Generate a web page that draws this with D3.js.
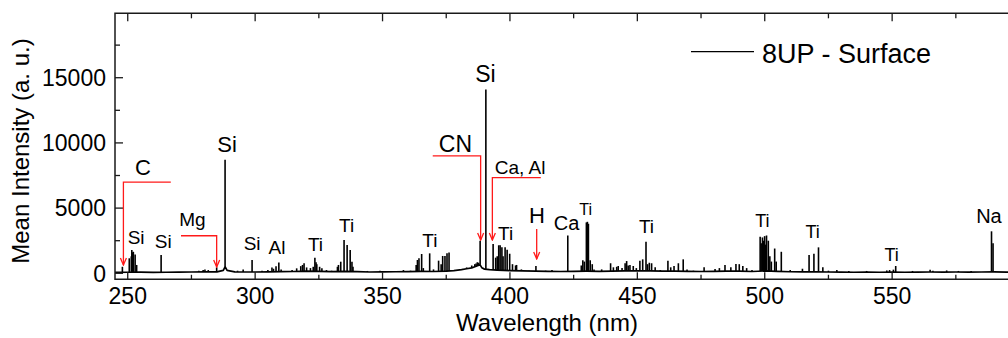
<!DOCTYPE html>
<html>
<head>
<meta charset="utf-8">
<script src="https://cdn.jsdelivr.net/npm/d3@7"></script>
<style>
  body { margin: 0; background: #fff; }
  svg { display: block; font-family: "Liberation Sans", Arial, sans-serif; }
</style>
</head>
<body>
<svg id="chart"></svg>
<script>
// baseline of the spectrum (wavelength nm, intensity)
const baseline = [
  [245, 70], [250, 80], [255, 90], [260, 70], [265, 80], [270, 90], [275, 100], [280, 120],
  [285, 110], [287.5, 220], [288.2, 500], [289, 220], [292, 110], [300, 100], [305, 110],
  [310, 130], [315, 140], [320, 170], [325, 150], [330, 130], [335, 150], [340, 130],
  [345, 100], [350, 110], [355, 120], [360, 130], [365, 150], [370, 140], [375, 160],
  [378, 200], [381, 280], [383, 350], [385, 420], [386.5, 520], [387.5, 600], [388.3, 650],
  [389, 420], [390, 320], [392, 280], [395, 240], [400, 210], [405, 180], [410, 160],
  [415, 150], [420, 140], [425, 150], [430, 160], [435, 150], [440, 170], [445, 180],
  [450, 190], [455, 180], [460, 160], [465, 170], [470, 150], [475, 140], [480, 150],
  [485, 160], [490, 170], [495, 140], [500, 180], [505, 150], [510, 120], [515, 110],
  [520, 120], [525, 100], [530, 90], [535, 80], [540, 90], [545, 80], [550, 100],
  [555, 80], [560, 90], [565, 100], [570, 90], [575, 100], [580, 90], [585, 100],
  [590, 110], [595, 90], [600, 80]
];

// emission lines: wavelength (nm) and peak intensity (a. u.)
const peakWavelengths = [
  247.9, 250.6, 251.4, 251.6, 251.9, 252.2, 252.9, 253.5, 263.1,
  277.9, 279.6, 280.3, 281.6, 284.9, 288.2,
  293.1, 295.3, 298.8, 302.7,
  305.0, 306.6, 307.2, 308.2, 309.3, 310.2,
  314.5, 316.3, 317.9, 318.6, 319.2, 320.2, 321.7, 322.8, 323.45, 323.9, 324.2, 325.3, 326.2, 328.0, 330.0,
  332.3, 332.7, 333.6, 334.9, 336.1, 337.3, 338.0, 338.4,
  344.0, 349.0, 350.5, 358.2, 361.0,
  363.2, 363.7, 364.3, 365.35, 366.0, 368.5, 370.0,
  372.0, 373.0, 373.6, 374.5, 375.3, 376.1,
  383.0, 385.0, 386.2, 386.7, 387.2, 387.7, 388.3,
  390.55,
  393.4, 394.4, 395.0, 395.6, 396.15, 396.85, 397.3, 398.1, 398.9, 399.9, 401.0, 402.2, 402.6, 404.5,
  407.5, 410.2, 414.0, 416.5,
  422.7,
  428.0, 428.6, 429.2, 430.0, 430.4, 430.8, 431.5, 432.3, 433.0,
  436.0, 439.5, 440.6, 441.9, 442.5, 444.0, 445.2, 445.8, 446.4, 447.1, 448.4, 449.6, 451.0, 452.1, 453.4, 454.0, 454.7, 455.6, 457.0,
  459.0, 462.0, 463.1, 464.4, 466.1, 468.0, 469.5,
  472.0, 476.2, 480.5, 482.2, 484.4, 486.7, 488.7, 490.0, 491.4, 492.9, 495.0,
  498.2, 498.6, 499.1, 499.5, 499.95, 500.3, 500.7, 501.4, 502.0, 502.6, 503.9, 504.5, 506.5,
  510.0, 514.8, 517.4, 519.3, 521.1, 522.8, 525.0, 528.3,
  533.0, 540.0, 547.9, 549.0, 550.5, 551.4,
  558.0, 564.9, 566.0, 571.4, 576.0, 581.0,
  589.0, 589.6
];
const peakIntensities = [
  500, 1150, 1300, 1790, 1600, 1650, 1450, 640, 1400,
  200, 250, 300, 250, 460, 8700,
  200, 300, 1020, 200,
  250, 450, 350, 550, 820, 300,
  250, 380, 550, 640, 770, 450, 400, 500, 1200, 850, 700, 500, 380, 250, 200,
  500, 640, 890, 2550, 2170, 1790, 890, 500,
  180, 200, 180, 250, 200,
  640, 1020, 1150, 1480, 400, 1530, 300,
  970, 700, 1330, 1330, 1530, 1600,
  450, 600, 700, 750, 850, 810, 2500,
  14100,
  2250, 1200, 1300, 2150, 2150, 2000, 1300, 2000, 1800, 1500, 700, 600, 640, 300,
  200, 560, 200, 250,
  2900,
  600, 1000, 900, 3900, 3950, 3800, 1000, 700, 300,
  300, 770, 460, 500, 560, 400, 770, 940, 600, 640, 560, 400, 970, 1070, 2420, 700, 810, 770, 460,
  250, 970, 460, 560, 770, 1070, 300,
  200, 460, 330, 400, 640, 460, 720, 700, 560, 400, 250,
  2800, 2300, 2750, 2500, 2850, 2200, 2900, 2500, 1300, 900, 1900, 900, 1650,
  250, 350, 1400, 1500, 1990, 460, 200, 250,
  180, 180, 220, 250, 280, 560,
  180, 280, 200, 220, 180, 180,
  3220, 2300
];

// element labels: text, wavelength, intensity, font size
const labelTexts = ['C', 'Si', 'Si', 'Mg', 'Si', 'Si', 'Al', 'Ti', 'Ti', 'Ti', 'Si', 'CN', 'Ca, Al', 'Ti', 'H', 'Ca', 'Ti', 'Ti', 'Ti', 'Ti', 'Ti', 'Na'];
const labelWl = [256.0, 253.3, 263.9, 275.4, 289.0, 298.8, 308.6, 323.7, 335.9, 368.6, 390.4, 378.6, 404.0, 398.3, 410.6, 422.2, 429.7, 453.6, 499.1, 518.8, 549.8, 588.0];
const labelInt = [8150, 2780, 2440, 4130, 9880, 2290, 1980, 2250, 3670, 2520, 15320, 9950, 8110, 3050, 4430, 3900, 4930, 3590, 4050, 3200, 1440, 4430];
const labelSize = [22, 19, 19, 19, 22, 19, 19, 19, 19, 19, 23, 23, 19, 19, 22, 20, 16, 19, 18, 18, 18, 20];

// red callout arrows: tip wavelength, tip intensity, elbow intensity, tail wavelength
const arrowTipWl = [248.3, 284.9, 388.5, 393.1, 410.5];
const arrowTipInt = [640, 480, 2550, 2550, 1100];
const arrowElbowInt = [7000, 2880, 9000, 7330, 3400];
const arrowTailWl = [266.9, 270.9, 369.7, 412.1, 410.5];

const xMajor = [250, 300, 350, 400, 450, 500, 550, 600];
const xMinor = [275, 325, 375, 425, 475, 525, 575];
const yMajor = [0, 5000, 10000, 15000];
const yMinor = [2500, 7500, 12500, 17500];

const seriesName = '8UP - Surface';

const width = 1008;
const height = 338;
const plotLeft = 115, plotTop = 13.3, plotBottom = 279.3;

const svg = d3.select('#chart').attr('width', width).attr('height', height);

const x = d3.scaleLinear().domain([245, 600]).range([plotLeft, plotLeft + 355 * 2.548]);
const y = d3.scaleLinear().domain([-460, 19940]).range([plotBottom, plotTop]);
const plotRight = x(600);

const axisColor = '#1a1a1a';

// spectrum baseline
const line = d3.line().x(d => x(d[0])).y(d => y(d[1]));
svg.append('path')
  .datum(baseline)
  .attr('fill', 'none')
  .attr('stroke', '#000')
  .attr('stroke-width', 1.7)
  .attr('stroke-linejoin', 'round')
  .attr('d', line);

const baseAt = w => {
  const i = d3.bisector(d => d[0]).left(baseline, w);
  if (i <= 0) return baseline[0][1];
  if (i >= baseline.length) return baseline[baseline.length - 1][1];
  const a = baseline[i - 1], b = baseline[i];
  return a[1] + (b[1] - a[1]) * (w - a[0]) / (b[0] - a[0]);
};

// emission lines
svg.append('g')
  .selectAll('line')
  .data(peakWavelengths.map((w, i) => [w, peakIntensities[i]]))
  .join('line')
  .attr('x1', d => x(d[0]))
  .attr('x2', d => x(d[0]))
  .attr('y1', d => y(baseAt(d[0])))
  .attr('y2', d => y(d[1]))
  .attr('stroke', '#000')
  .attr('stroke-width', 1.6);

// frame
svg.append('path')
  .attr('d', `M${plotRight},${plotTop}H${plotLeft}V${plotBottom}H${plotRight}`)
  .attr('fill', 'none')
  .attr('stroke', axisColor)
  .attr('stroke-width', 1.5);

const ticks = svg.append('g').attr('stroke', axisColor).attr('stroke-width', 1.3);
xMajor.forEach(v => {
  ticks.append('line').attr('x1', x(v)).attr('x2', x(v)).attr('y1', plotBottom).attr('y2', plotBottom - 7);
  ticks.append('line').attr('x1', x(v)).attr('x2', x(v)).attr('y1', plotTop).attr('y2', plotTop + 8);
});
xMinor.forEach(v => {
  ticks.append('line').attr('x1', x(v)).attr('x2', x(v)).attr('y1', plotBottom).attr('y2', plotBottom - 4.5);
  ticks.append('line').attr('x1', x(v)).attr('x2', x(v)).attr('y1', plotTop).attr('y2', plotTop + 5);
});
yMajor.forEach(v => {
  ticks.append('line').attr('x1', plotLeft).attr('x2', plotLeft + 8).attr('y1', y(v)).attr('y2', y(v));
});
yMinor.forEach(v => {
  ticks.append('line').attr('x1', plotLeft).attr('x2', plotLeft + 5).attr('y1', y(v)).attr('y2', y(v));
});

// tick labels
svg.append('g')
  .selectAll('text')
  .data(xMajor.slice(0, -1))
  .join('text')
  .attr('x', d => x(d))
  .attr('y', 304)
  .attr('text-anchor', 'middle')
  .attr('font-size', 23)
  .attr('fill', '#000')
  .text(d => d);

svg.append('g')
  .selectAll('text')
  .data(yMajor)
  .join('text')
  .attr('x', 106)
  .attr('y', d => y(d))
  .attr('dy', '0.36em')
  .attr('text-anchor', 'end')
  .attr('font-size', 23)
  .attr('fill', '#000')
  .text(d => d);

// axis titles
svg.append('text')
  .attr('x', 547)
  .attr('y', 331)
  .attr('text-anchor', 'middle')
  .attr('font-size', 24)
  .text('Wavelength (nm)');

svg.append('text')
  .attr('transform', 'translate(29,151) rotate(-90)')
  .attr('text-anchor', 'middle')
  .attr('font-size', 24)
  .text('Mean Intensity (a. u.)');

// element labels
svg.append('g')
  .selectAll('text')
  .data(labelTexts)
  .join('text')
  .attr('x', (d, i) => x(labelWl[i]))
  .attr('y', (d, i) => y(labelInt[i]))
  .attr('dy', '0.36em')
  .attr('text-anchor', 'middle')
  .attr('font-size', (d, i) => labelSize[i])
  .attr('fill', '#000')
  .text(d => d);

// red arrows
svg.append('defs').append('marker')
  .attr('id', 'head')
  .attr('markerUnits', 'userSpaceOnUse')
  .attr('viewBox', '-9 -5 10 10')
  .attr('markerWidth', 10)
  .attr('markerHeight', 10)
  .attr('refX', 0)
  .attr('refY', 0)
  .attr('orient', 'auto')
  .append('path')
  .attr('d', 'M-7,-3L0,0L-7,3')
  .attr('fill', 'none')
  .attr('stroke', '#ff1a1a')
  .attr('stroke-width', 1.3);

svg.append('g')
  .selectAll('path')
  .data(arrowTipWl.map((w, i) => ({ tip: w, tipV: arrowTipInt[i], elbow: arrowElbowInt[i], tail: arrowTailWl[i] })))
  .join('path')
  .attr('d', d => `M${x(d.tail)},${y(d.elbow)}L${x(d.tip)},${y(d.elbow)}L${x(d.tip)},${y(d.tipV)}`)
  .attr('fill', 'none')
  .attr('stroke', '#ff1a1a')
  .attr('stroke-width', 1.3)
  .attr('marker-end', 'url(#head)');

// legend
svg.append('line')
  .attr('x1', 691).attr('x2', 754)
  .attr('y1', 51.7).attr('y2', 51.7)
  .attr('stroke', '#000')
  .attr('stroke-width', 1.2);
svg.append('text')
  .attr('x', 762)
  .attr('y', 53)
  .attr('dy', '0.36em')
  .attr('font-size', 27)
  .text(seriesName);
</script>
</body>
</html>
